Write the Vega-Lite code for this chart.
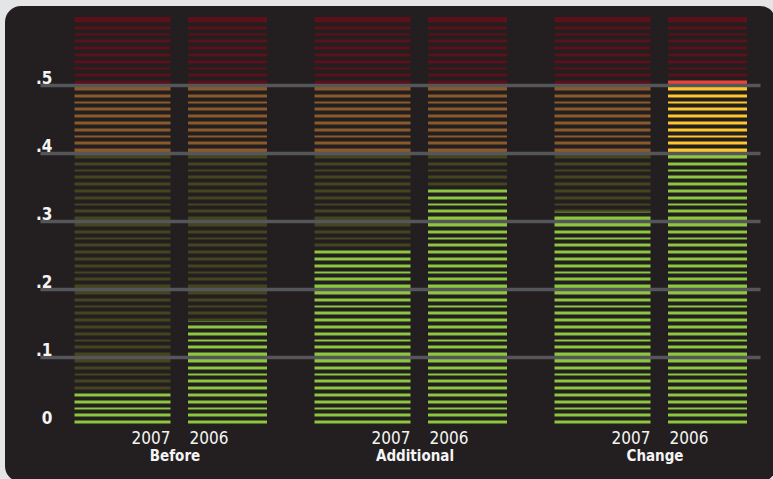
{
  "$schema": "https://vega.github.io/schema/vega-lite/v6.json",
  "width": 771,
  "height": 476,
  "autosize": {"type": "none"},
  "padding": {"left": 5, "top": 6, "right": -3, "bottom": -3},
  "background": "#e4e5e6",
  "view": {"fill": "#231f20", "stroke": null, "cornerRadius": 16},
  "data": {
    "values": [
      {"group": "Before", "year": "2007", "level": "green-lit", "from": 0, "to": 0.048},
      {"group": "Before", "year": "2007", "level": "green-dim", "from": 0.048, "to": 0.4},
      {"group": "Before", "year": "2007", "level": "orange-dim", "from": 0.4, "to": 0.5},
      {"group": "Before", "year": "2007", "level": "red-dim", "from": 0.5, "to": 0.6},
      {"group": "Before", "year": "2006", "level": "green-lit", "from": 0, "to": 0.153},
      {"group": "Before", "year": "2006", "level": "green-dim", "from": 0.153, "to": 0.4},
      {"group": "Before", "year": "2006", "level": "orange-dim", "from": 0.4, "to": 0.5},
      {"group": "Before", "year": "2006", "level": "red-dim", "from": 0.5, "to": 0.6},
      {"group": "Additional", "year": "2007", "level": "green-lit", "from": 0, "to": 0.26},
      {"group": "Additional", "year": "2007", "level": "green-dim", "from": 0.26, "to": 0.4},
      {"group": "Additional", "year": "2007", "level": "orange-dim", "from": 0.4, "to": 0.5},
      {"group": "Additional", "year": "2007", "level": "red-dim", "from": 0.5, "to": 0.6},
      {"group": "Additional", "year": "2006", "level": "green-lit", "from": 0, "to": 0.348},
      {"group": "Additional", "year": "2006", "level": "green-dim", "from": 0.348, "to": 0.4},
      {"group": "Additional", "year": "2006", "level": "orange-dim", "from": 0.4, "to": 0.5},
      {"group": "Additional", "year": "2006", "level": "red-dim", "from": 0.5, "to": 0.6},
      {"group": "Change", "year": "2007", "level": "green-lit", "from": 0, "to": 0.314},
      {"group": "Change", "year": "2007", "level": "green-dim", "from": 0.314, "to": 0.4},
      {"group": "Change", "year": "2007", "level": "orange-dim", "from": 0.4, "to": 0.5},
      {"group": "Change", "year": "2007", "level": "red-dim", "from": 0.5, "to": 0.6},
      {"group": "Change", "year": "2006", "level": "green-lit", "from": 0, "to": 0.4},
      {"group": "Change", "year": "2006", "level": "orange-lit", "from": 0.4, "to": 0.5},
      {"group": "Change", "year": "2006", "level": "red-lit", "from": 0.5, "to": 0.51},
      {"group": "Change", "year": "2006", "level": "red-dim", "from": 0.51, "to": 0.6}
    ]
  },
  "encoding": {
    "x": {
      "field": "group",
      "type": "nominal",
      "sort": ["Before", "Additional", "Change"],
      "scale": {"domain": ["Before", "Additional", "Change"], "range": [35, 755], "paddingInner": 0.125, "paddingOuter": 0.0625, "align": 1},
      "axis": {
        "title": null,
        "orient": "bottom",
        "offset": -57,
        "domain": false,
        "ticks": false,
        "tickSize": 0,
        "labelPadding": 35,
        "labelBaseline": "alphabetic",
        "labelAngle": 0,
        "labelFont": "DejaVu Sans Condensed",
        "labelFontWeight": "bold",
        "labelFontSize": 15,
        "labelColor": "#f4f4f4"
      }
    },
    "xOffset": {
      "field": "year",
      "type": "nominal",
      "sort": ["2007", "2006"],
      "scale": {"domain": ["2007", "2006"], "paddingInner": 0, "paddingOuter": 0}
    }
  },
  "layer": [
    {
      "mark": {"type": "bar"},
      "encoding": {
        "y": {
          "field": "from",
          "type": "quantitative",
          "scale": {"domain": [-0.08382, 0.61618], "nice": false, "zero": false},
          "axis": {
            "title": null,
            "domain": false,
            "ticks": false,
            "tickSize": 0,
            "zindex": 1,
            "tickCount": 200,
            "labelOverlap": false,
            "values": [0, 0.01, 0.02, 0.03, 0.04, 0.05, 0.06, 0.07, 0.08, 0.09, 0.1, 0.11, 0.12, 0.13, 0.14, 0.15, 0.16, 0.17, 0.18, 0.19, 0.2, 0.21, 0.22, 0.23, 0.24, 0.25, 0.26, 0.27, 0.28, 0.29, 0.3, 0.31, 0.32, 0.33, 0.34, 0.35, 0.36, 0.37, 0.38, 0.39, 0.4, 0.41, 0.42, 0.43, 0.44, 0.45, 0.46, 0.47, 0.48, 0.49, 0.5, 0.51, 0.52, 0.53, 0.54, 0.55, 0.56, 0.57, 0.58, 0.59],
            "grid": true,
            "gridColor": {"condition": {"test": "datum.value > 0.05 && abs(datum.value * 10 - round(datum.value * 10)) < 0.001", "value": "#555659"}, "value": "#231f20"},
            "gridWidth": {"condition": {"test": "datum.value > 0.05 && abs(datum.value * 10 - round(datum.value * 10)) < 0.001", "value": 3.3}, "value": 3.8},
            "labelExpr": "abs(datum.value * 10 - round(datum.value * 10)) < 0.001 ? (datum.value == 0 ? '0' : '.' + round(datum.value * 10)) : ''",
            "labelAlign": "right",
            "labelBaseline": "alphabetic",
            "labelOffset": -1.5,
            "labelPadding": -47,
            "labelFont": "DejaVu Sans Condensed",
            "labelFontWeight": "bold",
            "labelFontSize": 17,
            "labelColor": "#f4f4f4"
          }
        },
        "y2": {"field": "to"},
        "size": {
          "field": "year",
          "type": "ordinal",
          "scale": {"domain": ["2007", "2006"], "range": [96, 79]},
          "legend": null
        },
        "color": {
          "field": "level",
          "type": "nominal",
          "scale": {
            "domain": ["green-lit", "green-dim", "orange-lit", "orange-dim", "red-lit", "red-dim"],
            "range": ["#8dc63f", "#44441f", "#fec62e", "#8b5a2b", "#e9433a", "#5a111a"]
          },
          "legend": null
        }
      }
    },
    {
      "transform": [{"filter": "datum.level === 'green-lit' && datum.year === '2007'"}],
      "mark": {"type": "text", "align": "right", "baseline": "alphabetic", "dx": 48, "dy": 18.5, "font": "DejaVu Sans Condensed", "fontSize": 17, "color": "#f4f4f4"},
      "encoding": {
        "y": {"datum": 0},
        "text": {"field": "year"}
      }
    },
    {
      "transform": [{"filter": "datum.level === 'green-lit' && datum.year === '2006'"}],
      "mark": {"type": "text", "align": "left", "baseline": "alphabetic", "dx": -38, "dy": 18.5, "font": "DejaVu Sans Condensed", "fontSize": 17, "color": "#f4f4f4"},
      "encoding": {
        "y": {"datum": 0},
        "text": {"field": "year"}
      }
    }
  ]
}
